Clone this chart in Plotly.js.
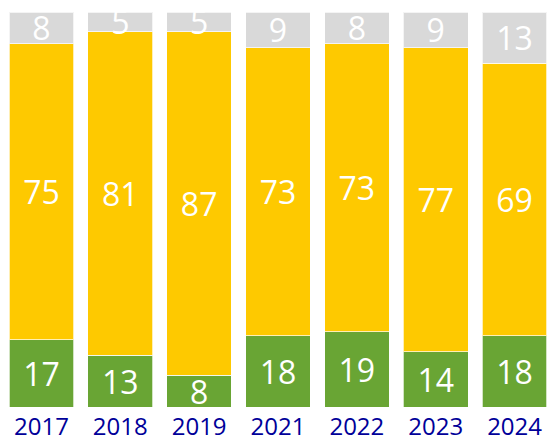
<!DOCTYPE html>
<html><head><meta charset="utf-8">
<script src="https://cdn.plot.ly/plotly-3.0.1.min.js"></script>
<style>html,body{margin:0;padding:0;background:#fff}#c{width:554px;height:443px}</style>
</head><body><div id="c"></div>
<script>
const years = ['2017','2018','2019','2021','2022','2023','2024'];
const green = [17,13,8,18,19,14,18];
const yellow = [75,81,87,73,73,77,69];
const gray = [8,5,5,9,8,9,13];

function tr(vals, color){
  return {type:'bar', x:years, y:vals, text:vals.map(String),
    textposition:'inside', insidetextanchor:'middle', constraintext:'none',
    textangle:0, cliponaxis:true,
    textfont:{family:'Open Sans, sans-serif', size:32, color:'#ffffff'},
    marker:{color:color, line:{color:'rgba(255,255,255,0.7)', width:1}},
    hoverinfo:'none'};
}
const data = [tr(green,'#69a534'), tr(yellow,'#fec900'), tr(gray,'#d9d9d9')];
const layout = {
  width:554, height:443, barmode:'stack', barnorm:'percent', bargap:0.18,
  margin:{l:2, r:0, t:12, b:36},
  paper_bgcolor:'#fff', plot_bgcolor:'#fff', showlegend:false,
  xaxis:{type:'category', showgrid:false, zeroline:false, showline:false, ticks:'',
    ticklabelstandoff:3,
    tickfont:{family:'Open Sans, sans-serif', size:24, color:'#000099'}},
  yaxis:{range:[0,100], visible:false, showgrid:false, zeroline:false},
};
Plotly.newPlot('c', data, layout, {staticPlot:true});
</script></body></html>
